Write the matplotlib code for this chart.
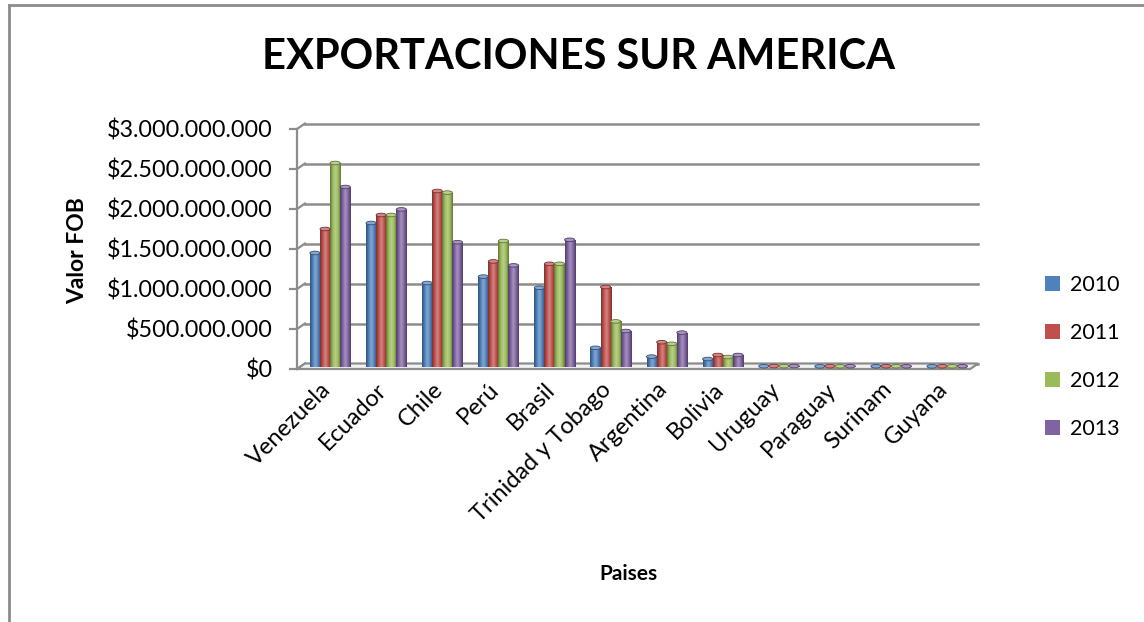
import numpy as np
import matplotlib.pyplot as plt
from matplotlib.colors import LinearSegmentedColormap, to_rgb
from matplotlib.patches import Ellipse, Polygon, Patch
from matplotlib.lines import Line2D
import matplotlib.transforms as mtransforms

plt.rcParams['font.family'] = ['Lato', 'DejaVu Sans']

paises = ["Venezuela", "Ecuador", "Chile", "Perú", "Brasil", "Trinidad y Tobago",
          "Argentina", "Bolivia", "Uruguay", "Paraguay", "Surinam", "Guyana"]
anios = ["2010", "2011", "2012", "2013"]
v2010 = [1.425e9, 1.80e9, 1.05e9, 1.13e9, 0.99e9, 0.24e9, 0.13e9, 0.10e9, 0.010e9, 0.008e9, 0.009e9, 0.008e9]
v2011 = [1.725e9, 1.90e9, 2.20e9, 1.32e9, 1.29e9, 1.00e9, 0.31e9, 0.15e9, 0.012e9, 0.010e9, 0.010e9, 0.009e9]
v2012 = [2.55e9, 1.90e9, 2.18e9, 1.575e9, 1.29e9, 0.57e9, 0.29e9, 0.125e9, 0.011e9, 0.009e9, 0.010e9, 0.009e9]
v2013 = [2.25e9, 1.97e9, 1.56e9, 1.27e9, 1.59e9, 0.45e9, 0.43e9, 0.15e9, 0.012e9, 0.010e9, 0.009e9, 0.010e9]
series = [v2010, v2011, v2012, v2013]
colores = ["#4F81BD", "#C0504D", "#9BBB59", "#8064A2"]
yticks = [0, 0.5e9, 1.0e9, 1.5e9, 2.0e9, 2.5e9, 3.0e9]

W, H = 1144, 622
fig = plt.figure(figsize=(W / 100, H / 100), dpi=100)

# pixel geometry of the plot area
px_cat = 56.1          # px per category
px_bil = 80.0          # px per 1e9
x_left_px, x_right_px = 297, 980
y0_px, ytop_px = 369, 120
xmin = -0.59
xmax = xmin + (x_right_px - x_left_px) / px_cat
ymax = (y0_px - ytop_px) / px_bil * 1e9
dx = 8 / px_cat
dy = 5.5 / px_bil * 1e9
gris = "#8c8c8c"

ax = fig.add_axes([x_left_px / W, 1 - y0_px / H, (x_right_px - x_left_px) / W, (y0_px - ytop_px) / H])
ax.set_facecolor("none")

# back wall gridlines and connectors
x_back_end = 11.41 + dx
for v in yticks:
    ax.plot([xmin, xmin + dx], [v, v + dy], color=gris, lw=1.6, clip_on=False, zorder=1)
    ax.plot([xmin + dx, x_back_end], [v + dy, v + dy], color=gris, lw=1.8, clip_on=False, zorder=1)

# floor
floor = Polygon([[xmin, 0], [11.41, 0], [11.41 + dx, dy], [xmin + dx, dy]], closed=True,
                facecolor="#f2f2f2", edgecolor=gris, lw=1.6, clip_on=False, zorder=1.5)
ax.add_patch(floor)

bw = 0.18
base = 0.025e9
x = np.arange(len(paises))
for k, (vals, c) in enumerate(zip(series, colores)):
    rgb = np.array(to_rgb(c))
    dark = rgb * 0.62
    light = rgb + (1 - rgb) * 0.30
    cmap = LinearSegmentedColormap.from_list("cyl%d" % k, [dark, rgb, light, rgb, dark], N=64)
    pos = x + (k - 1.5) * bw
    bars = ax.bar(pos, vals, width=bw, bottom=base, color=c, zorder=3, linewidth=0)
    grad = np.linspace(0, 1, 64).reshape(1, -1)
    for b, xx, v in zip(bars, pos, vals):
        im = ax.imshow(grad, extent=[xx - bw / 2, xx + bw / 2, base, base + v], aspect="auto",
                       cmap=cmap, zorder=3.1, interpolation="bilinear")
        im.set_clip_path(b)
        cap = Ellipse((xx, base + v), bw, 0.045e9, facecolor=light, edgecolor=dark, lw=0.6, zorder=3.2)
        ax.add_patch(cap)

ax.set_xlim(xmin, xmax)
ax.set_ylim(0, ymax)

for s in ["top", "right", "bottom"]:
    ax.spines[s].set_visible(False)
ax.spines["left"].set_color(gris)
ax.spines["left"].set_linewidth(1.6)
ax.spines["left"].set_bounds(0, 3e9)

ax.set_yticks(yticks)
ax.set_yticklabels(["$" + format(int(v), ",").replace(",", ".") for v in yticks], fontsize=16.8)
ax.tick_params(axis="y", length=5.5, width=1.6, color=gris, pad=12, labelcolor="black")

ax.set_xticks(x)
ax.set_xticklabels(paises, rotation=45, ha="right", rotation_mode="anchor", fontsize=17)
ax.tick_params(axis="x", length=0, pad=7)
off = mtransforms.ScaledTranslation(-10 / 100, 0, fig.dpi_scale_trans)
for lab in ax.get_xticklabels():
    lab.set_transform(lab.get_transform() + off)

fig.text(578 / W, 1 - 57 / H, "EXPORTACIONES SUR AMERICA", ha="center", va="center",
         fontsize=30, fontweight="bold")
fig.text(78 / W, 1 - 251 / H, "Valor FOB", ha="center", va="center", rotation=90,
         fontsize=16.5, fontweight="bold")
fig.text(628 / W, 1 - 574 / H, "Paises", ha="center", va="center", fontsize=15, fontweight="bold")

handles = [Patch(facecolor=c, edgecolor="none") for c in colores]
fig.legend(handles, anios, loc="center left", bbox_to_anchor=(1045 / W, 1 - 357 / H),
           frameon=False, fontsize=15.5, handlelength=0.7, handleheight=0.7,
           handletextpad=0.45, labelspacing=1.3, borderpad=0, borderaxespad=0)

# chart border (only top and left visible)
fig.add_artist(Line2D([9 / W, 1], [1 - 5 / H, 1 - 5 / H], color=gris, lw=2))
fig.add_artist(Line2D([9 / W, 9 / W], [0, 1 - 5 / H], color=gris, lw=2))

fig.savefig("out.png", dpi=100)
